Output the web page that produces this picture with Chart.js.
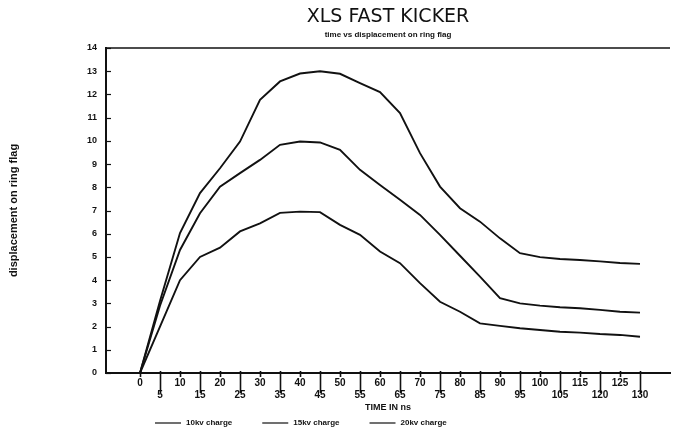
<!DOCTYPE html>
<html>
<head>
<meta charset="utf-8">
<script src="https://cdn.jsdelivr.net/npm/chart.js@4.4.1/dist/chart.umd.min.js"></script>
<style>
  html, body { margin: 0; padding: 0; background: #fff; }
  #wrap { width: 677px; height: 431px; }
</style>
</head>
<body>
<div id="wrap"><canvas id="myChart" width="677" height="431"></canvas></div>
<script>
// time axis labels (the original plot skips 110)
const timeLabels = ["0", "5", "10", "15", "20", "25", "30", "35", "40", "45", "50", "55", "60",
  "65", "70", "75", "80", "85", "90", "95", "100", "105", "115", "120", "125", "130"];

// displacement readings per label
const charge10 = [0, 2.0, 4.0, 5.0, 5.4, 6.1, 6.45, 6.9, 6.95, 6.93, 6.38, 5.95, 5.23,
  4.73, 3.87, 3.07, 2.64, 2.14, 2.03, 1.93, 1.85, 1.78, 1.74, 1.68, 1.64, 1.56];
const charge15 = [0, 2.9, 5.3, 6.88, 8.03, 8.61, 9.18, 9.83, 9.97, 9.93, 9.61, 8.75, 8.1,
  7.46, 6.81, 5.95, 5.05, 4.15, 3.22, 3.0, 2.9, 2.83, 2.79, 2.72, 2.64, 2.6];
const charge20 = [0, 3.1, 6.03, 7.75, 8.82, 9.97, 11.77, 12.56, 12.9, 13.0, 12.89, 12.49, 12.1,
  11.2, 9.47, 8.03, 7.1, 6.52, 5.8, 5.16, 4.99, 4.91, 4.87, 4.81, 4.74, 4.7];

const seriesNames = ["10kv charge", "15kv charge", "20kv charge"];
const yTicks = [0, 1, 2, 3, 4, 5, 6, 7, 8, 9, 10, 11, 12, 13, 14];

const ink = "#111";
const labelFont = "Liberation Sans";

const toPoints = (arr) => arr.map((v, i) => ({ x: i, y: v }));

const makeSet = (name, values) => ({
  label: name,
  data: toPoints(values),
  borderColor: ink,
  borderWidth: 1.9,
  pointRadius: 0,
  tension: 0,
  fill: false,
});

// frame, tick marks and legend like the old plotter output
const plotFrame = {
  id: "plotFrame",
  afterDraw(chart) {
    const { ctx, chartArea, scales } = chart;
    const x = scales.x;
    const y = scales.y;
    ctx.save();
    ctx.strokeStyle = ink;

    // top border
    ctx.lineWidth = 1.5;
    ctx.beginPath();
    ctx.moveTo(chartArea.left, chartArea.top);
    ctx.lineTo(chartArea.right, chartArea.top);
    ctx.stroke();

    // y ticks point inward
    ctx.lineWidth = 1.2;
    yTicks.forEach((v) => {
      const py = Math.round(y.getPixelForValue(v)) + 0.5;
      ctx.beginPath();
      ctx.moveTo(chartArea.left, py);
      ctx.lineTo(chartArea.left + 5, py);
      ctx.stroke();
    });

    // x ticks: short for upper labels, long for lower
    ctx.lineWidth = 1.6;
    timeLabels.forEach((_, i) => {
      const px = Math.round(x.getPixelForValue(i)) + 0.5;
      ctx.beginPath();
      ctx.moveTo(px, chartArea.bottom - 2);
      ctx.lineTo(px, chartArea.bottom + (i % 2 ? 20 : 4));
      ctx.stroke();
    });

    // legend
    ctx.font = "bold 8px " + labelFont;
    ctx.fillStyle = ink;
    ctx.textBaseline = "middle";
    let lx = 155;
    const ly = 423;
    chart.data.datasets.forEach((ds) => {
      ctx.lineWidth = 1.2;
      ctx.beginPath();
      ctx.moveTo(lx, ly);
      ctx.lineTo(lx + 26, ly);
      ctx.stroke();
      ctx.fillText(ds.label, lx + 31, ly);
      lx += 31 + ctx.measureText(ds.label).width + 30;
    });
    ctx.restore();
  },
};

const data = {
  datasets: [
    makeSet(seriesNames[0], charge10),
    makeSet(seriesNames[1], charge15),
    makeSet(seriesNames[2], charge20),
  ],
};

const config = {
  type: "line",
  data: data,
  options: {
    responsive: false,
    animation: false,
    layout: { padding: { left: 0, right: 7, top: 0, bottom: 0 } },
    plugins: {
      legend: { display: false },
      tooltip: { enabled: false },
      title: {
        display: true,
        fullSize: false,
        text: "XLS FAST KICKER",
        color: ink,
        font: { family: "DejaVu Sans", size: 19, weight: "normal" },
        padding: { top: 5.6, bottom: 1.8 },
      },
      subtitle: {
        display: true,
        fullSize: false,
        text: "time vs displacement on ring flag",
        color: ink,
        font: { family: labelFont, size: 8, weight: "bold" },
        padding: { top: 0, bottom: 8.2 },
      },
    },
    scales: {
      x: {
        type: "linear",
        min: -1.7,
        max: 26.5,
        afterBuildTicks: (axis) => {
          axis.ticks = timeLabels.map((_, i) => ({ value: i }));
        },
        afterFit: (axis) => {
          axis.height = 58;
        },
        grid: { display: false, drawTicks: false },
        border: { display: true, color: ink, width: 2 },
        ticks: {
          autoSkip: false,
          maxRotation: 0,
          padding: 5,
          color: ink,
          font: { family: labelFont, size: 10, weight: "bold", lineHeight: 1.12 },
          callback: (value) => {
            const t = timeLabels[value];
            return value % 2 ? ["", t] : t;
          },
        },
        title: {
          display: true,
          text: "TIME IN ns",
          color: ink,
          font: { family: labelFont, size: 9, weight: "bold" },
          padding: { top: 0, bottom: 17.6 },
        },
      },
      y: {
        min: 0,
        max: 14,
        afterBuildTicks: (axis) => {
          axis.ticks = yTicks.map((v) => ({ value: v }));
        },
        afterFit: (axis) => {
          axis.width = 106;
        },
        grid: { display: false, drawTicks: false },
        border: { display: true, color: ink, width: 2 },
        ticks: {
          padding: 9,
          color: ink,
          font: { family: labelFont, size: 9, weight: "bold" },
        },
        title: {
          display: true,
          text: "displacement on ring flag",
          color: ink,
          font: { family: labelFont, size: 11, weight: "bold" },
          padding: { top: 7.4, bottom: 0 },
        },
      },
    },
  },
  plugins: [plotFrame],
};

let myChart = new Chart(document.getElementById("myChart"), config);
</script>
</body>
</html>
